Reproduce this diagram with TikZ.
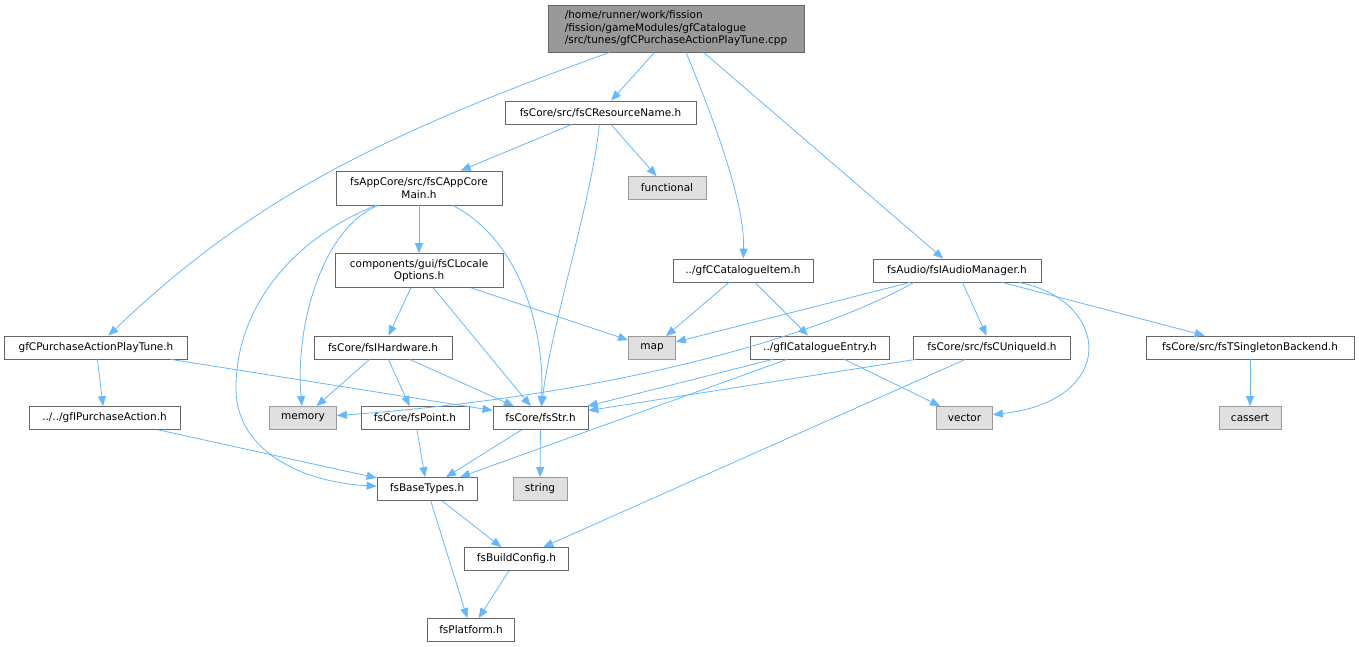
\documentclass[tikz,border=0pt]{standalone}
\usepackage{fontspec}
\setmainfont{DejaVu Sans}
\usetikzlibrary{arrows.meta}

\definecolor{edgeblue}{HTML}{63B8FF}
\definecolor{boxgray}{HTML}{666666}
\definecolor{extgray}{HTML}{999999}
\definecolor{extfill}{HTML}{E0E0E0}

\tikzset{
  file/.style={draw=boxgray, fill=white, line width=0.8pt, minimum height=23pt,
    inner sep=2pt, font=\fontsize{10.5}{12.5}\selectfont, align=center},
  ext/.style={file, draw=extgray, fill=extfill},
  dep/.style={draw=edgeblue, line width=0.8pt, -{Triangle[length=10pt,width=8pt]}},
}

\begin{document}
\begin{tikzpicture}[x=1pt, y=-1pt]
        \useasboundingbox (0,0) rectangle (1359,647);
        % source file on top
        \node[file, fill=extgray, minimum width=256pt, minimum height=47pt, align=left] (cpp) at (676,28.5)
            {/home/runner/work/fission\\/fission/gameModules/gfCatalogue\\/src/tunes/gfCPurchaseActionPlayTune.cpp};
        % included headers
        \node[file, minimum width=191pt] (resname) at (600.5,112.5) {fsCore/src/fsCResourceName.h};
        \node[file, minimum width=166pt, minimum height=34pt] (appcore) at (419,188) {fsAppCore/src/fsCAppCore\\Main.h};
        \node[ext, minimum width=78pt] (functional) at (667,188) {functional};
        \node[file, minimum width=168pt, minimum height=34pt] (locale) at (419,270.5) {components/gui/fsCLocale\\Options.h};
        \node[file, minimum width=140pt] (catitem) at (743,270.5) {../gfCCatalogueItem.h};
        \node[file, minimum width=168pt] (audio) at (957,270.5) {fsAudio/fsIAudioManager.h};
        \node[file, minimum width=183pt] (playtune) at (96,347.5) {gfCPurchaseActionPlayTune.h};
        \node[file, minimum width=138pt] (hardware) at (383,347.5) {fsCore/fsIHardware.h};
        \node[ext, minimum width=47pt] (map) at (652,348) {map};
        \node[file, minimum width=139pt] (catentry) at (820,347.5) {../gfICatalogueEntry.h};
        \node[file, minimum width=157pt] (uniqueid) at (992,347.5) {fsCore/src/fsCUniqueId.h};
        \node[file, minimum width=208pt] (singleton) at (1250,347.5) {fsCore/src/fsTSingletonBackend.h};
        \node[file, minimum width=151pt] (purchase) at (104.5,418) {../../gfIPurchaseAction.h};
        \node[ext, minimum width=67pt] (memory) at (303,418) {memory};
        \node[file, minimum width=108pt] (point) at (415,418) {fsCore/fsPoint.h};
        \node[file, minimum width=95pt] (str) at (540.5,418) {fsCore/fsStr.h};
        \node[ext, minimum width=56pt] (vector) at (964.5,418) {vector};
        \node[ext, minimum width=62pt] (cassert) at (1250,418) {cassert};
        \node[file, minimum width=100pt] (base) at (427,489) {fsBaseTypes.h};
        \node[ext, minimum width=54pt] (string) at (540,489) {string};
        \node[file, minimum width=104pt] (buildcfg) at (516.5,559) {fsBuildConfig.h};
        \node[file, minimum width=87pt] (platform) at (471,630) {fsPlatform.h};
        % straight includes
        \foreach \a/\b in {cpp/resname, cpp/audio, resname/appcore, resname/functional,
            appcore/locale, locale/hardware, locale/str, locale/map,
            playtune/purchase, playtune/str, purchase/base,
            hardware/memory, hardware/point, hardware/str,
            point/base, str/base, str/string, base/buildcfg, base/platform, buildcfg/platform,
            catitem/map, catitem/catentry, catentry/str, catentry/base, catentry/vector,
            audio/map, audio/uniqueid, audio/singleton,
            uniqueid/str, uniqueid/buildcfg, singleton/cassert} {
            \draw[dep] (\a) -- (\b);
        }
        % curved includes
        \draw[dep] (cpp) .. controls (380,135) and (250,200) .. (playtune);
        \draw[dep] (cpp) .. controls (710,110) and (745,200) .. (catitem);
        \draw[dep] (resname) .. controls (592,200) and (550,330) .. (str);
        \draw[dep] (appcore) .. controls (320,230) and (295,330) .. (memory);
        \draw[dep] (appcore) .. controls (290,240) and (235,310) .. (236,390)
            .. controls (237,450) and (300,482) .. (base);
        \draw[dep] (appcore) .. controls (520,240) and (545,330) .. (str);
        \draw[dep] ([xshift=-43pt]audio.south) .. controls (820,335) and (620,395) .. (memory);
        \draw[dep] (audio) .. controls (1110,300) and (1120,400) .. (vector);
    \end{tikzpicture}
\end{document}
